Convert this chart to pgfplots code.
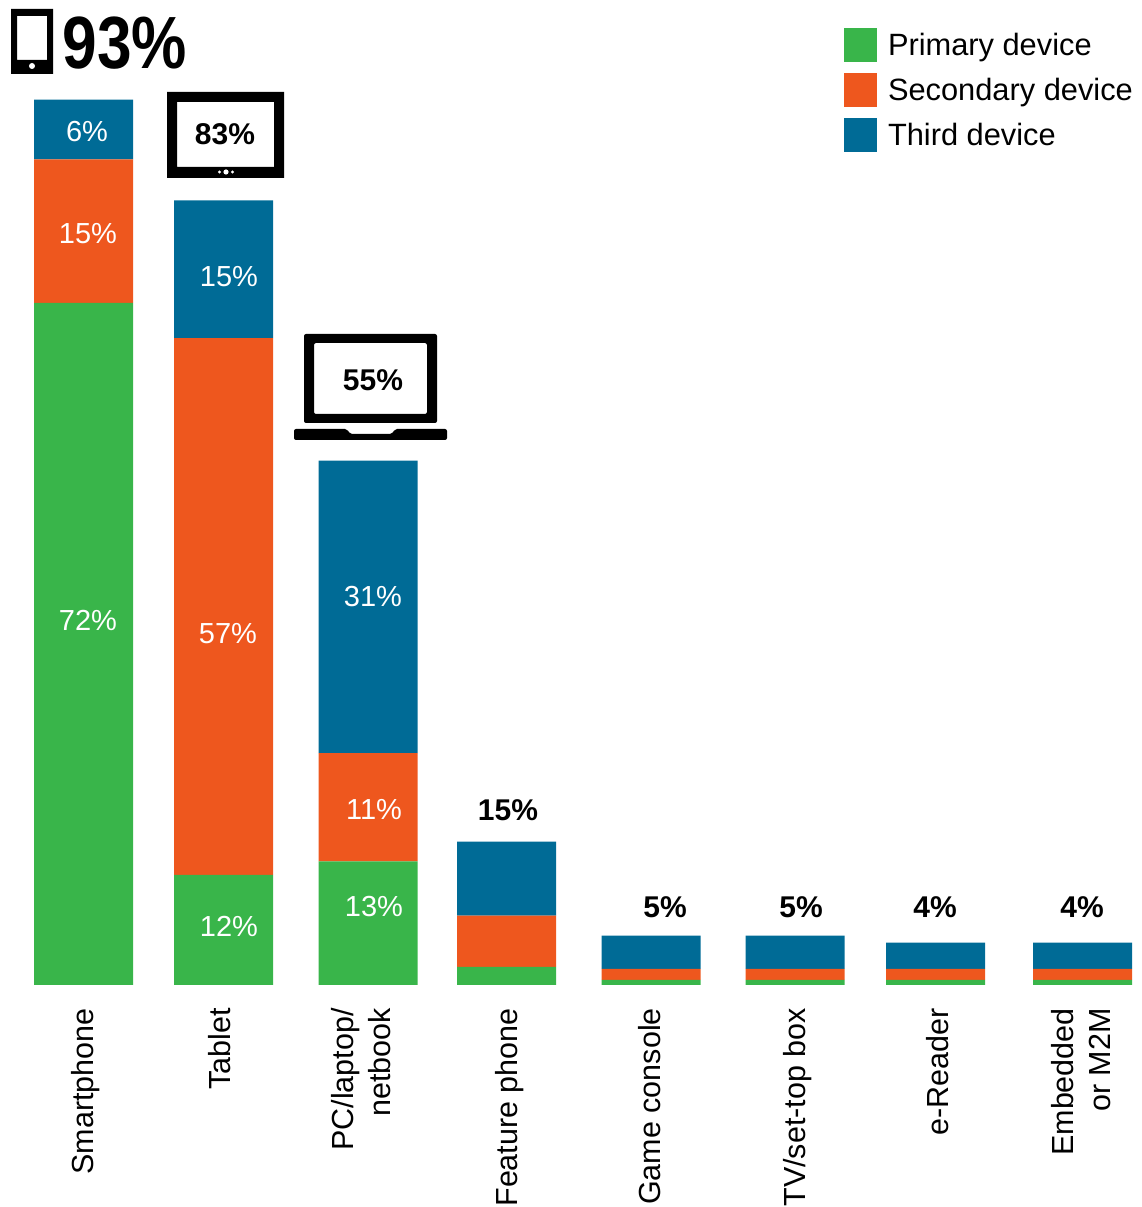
\documentclass[border=0pt]{standalone}
\usepackage{fontspec}
\setmainfont{Liberation Sans}
\usepackage{pgfplots}
\pgfplotsset{compat=1.18}
\definecolor{prim}{RGB}{57,181,74}
\definecolor{sec}{RGB}{238,87,30}
\definecolor{third}{RGB}{0,107,150}
\newcommand{\lab}{\fontsize{30.8}{38}\selectfont}
\newcommand{\ticklab}{\fontsize{30.5}{36.5}\selectfont}
\newcommand{\inbar}{\fontsize{29}{34}\selectfont}
\newcommand{\tot}{\fontsize{30}{34}\selectfont\bfseries}
\begin{document}
\begin{tikzpicture}
\useasboundingbox (0,0) rectangle (1141pt,1207pt);
\begin{axis}[
    at={(0,222pt)}, anchor=south west,
    scale only axis, width=1141pt, height=985pt,
    xmin=0, xmax=1141,
    ymin=0, ymax=103.68,
    ybar stacked,
    bar width=99pt,
    axis line style={draw=none},
    major tick length=0pt,
    ytick=\empty,
    xtick={86,220,361,510,650,798,938,1081},
    xticklabels={Smartphone,Tablet,{PC/laptop/\\netbook},Feature phone,Game console,TV/set-top box,e-Reader,{Embedded\\or M2M}},
    xticklabel style={rotate=90,anchor=east,align=right,font=\ticklab,inner sep=0pt},
    xticklabel shift=23pt,
    xticklabel pos=lower,
    clip=false,
    legend style={at={(844/1141,1-28/985)},anchor=north west,draw=none,fill=none,inner sep=0pt,outer sep=0pt,
        font=\lab,row sep=11.5pt,/tikz/every odd column/.append style={column sep=9pt}},
    legend cell align=left,
    legend image code/.code={\fill[#1] (0,-16.8pt) rectangle (33pt,16.8pt);},
]
\addplot[fill=prim,draw=none] coordinates {(83.5,71.8)(223.5,11.6)(368,13.0)(506.5,1.9)(651,0.55)(795,0.55)(935.5,0.55)(1082.5,0.55)};
\addplot[fill=sec,draw=none] coordinates {(83.5,15.1)(223.5,56.5)(368,11.4)(506.5,5.4)(651,1.15)(795,1.15)(935.5,1.15)(1082.5,1.15)};
\addplot[fill=third,draw=none] coordinates {(83.5,6.3)(223.5,14.5)(368,30.8)(506.5,7.8)(651,3.5)(795,3.5)(935.5,2.75)(1082.5,2.75)};
\legend{Primary device,Secondary device,Third device}
\end{axis}
\begin{scope}[x=1pt,y=-1pt,shift={(0,1207pt)}]
% values on the bars
\node[white,font=\inbar] at (87,132) {6\%};
\node[white,font=\inbar] at (88,234) {15\%};
\node[white,font=\inbar] at (88,620) {72\%};
\node[white,font=\inbar] at (229,277) {15\%};
\node[white,font=\inbar] at (228,634) {57\%};
\node[white,font=\inbar] at (229,926) {12\%};
\node[white,font=\inbar] at (373,597) {31\%};
\node[white,font=\inbar] at (374,810) {11\%};
\node[white,font=\inbar] at (374,907) {13\%};
% totals
\node[font=\tot] at (508,810) {15\%};
\node[font=\tot] at (665,907) {5\%};
\node[font=\tot] at (801,907) {5\%};
\node[font=\tot] at (935,907) {4\%};
\node[font=\tot] at (1082,907) {4\%};
% phone
\fill[even odd rule] (11,9) rectangle (53,74) (17,16) rectangle (47,60);
\fill[white] (32,66) circle (3);
\node[font=\fontsize{74}{80}\selectfont\bfseries,xscale=.84,inner sep=0pt] at (125,43) {93\%};
% tablet
\fill[even odd rule] (167,92) rectangle (284,178) (177,102) rectangle (274,167);
\fill[white] (226,172) circle (2.6) (219.5,172) circle (1.7) (232.5,172) circle (1.7);
\node[font=\tot] at (225,134) {83\%};
% laptop
\fill[even odd rule,rounded corners=2pt] (304,334) rectangle (437,423) (314,343) rectangle (427,414);
\fill[rounded corners=2pt] (294,429) -- (347,429) -- (350,434) -- (392,434) -- (395,429) -- (447,429) -- (447,440) -- (294,440) -- cycle;
\node[font=\tot] at (373,380) {55\%};
\end{scope}
\end{tikzpicture}
\end{document}
